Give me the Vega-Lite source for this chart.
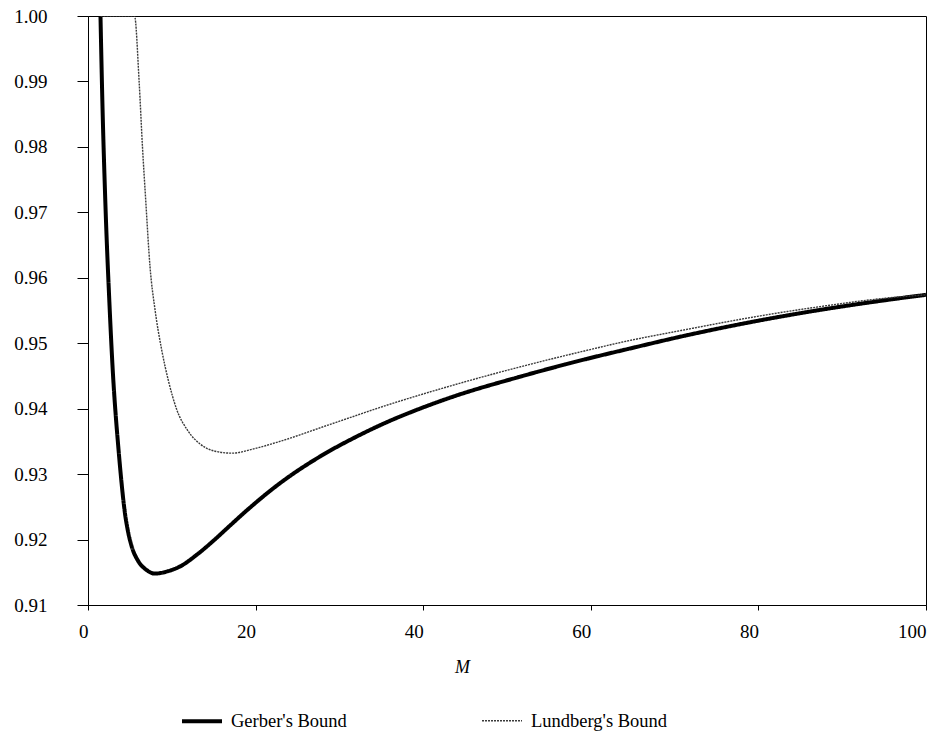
{
  "$schema": "https://vega.github.io/schema/vega-lite/v6.json",
  "width": 838,
  "height": 589,
  "autosize": {"type": "none"},
  "padding": {"left": 88, "top": 16, "right": 6, "bottom": 127},
  "background": "white",
  "config": {
    "font": "Liberation Serif",
    "view": {"stroke": "black", "strokeWidth": 1},
    "legend": {
      "orient": "none",
      "legendX": 92,
      "legendY": 683,
      "direction": "horizontal",
      "columns": 2,
      "columnPadding": 132,
      "symbolType": "stroke",
      "symbolSize": 1600,
      "labelFont": "Liberation Serif",
      "labelFontSize": 18.5,
      "labelColor": "black",
      "labelOffset": 7,
      "labelLimit": 300,
      "padding": 0
    }
  },
  "data": {
    "values": [
      {"series": "Gerber's Bound", "M": 1.49, "value": 1.0},
      {"series": "Gerber's Bound", "M": 1.71, "value": 0.9872},
      {"series": "Gerber's Bound", "M": 2.06, "value": 0.9719},
      {"series": "Gerber's Bound", "M": 2.54, "value": 0.9566},
      {"series": "Gerber's Bound", "M": 3.02, "value": 0.9444},
      {"series": "Gerber's Bound", "M": 3.29, "value": 0.9393},
      {"series": "Gerber's Bound", "M": 3.62, "value": 0.9341},
      {"series": "Gerber's Bound", "M": 3.97, "value": 0.9291},
      {"series": "Gerber's Bound", "M": 4.4, "value": 0.9241},
      {"series": "Gerber's Bound", "M": 4.75, "value": 0.9214},
      {"series": "Gerber's Bound", "M": 5.25, "value": 0.9188},
      {"series": "Gerber's Bound", "M": 5.95, "value": 0.9168},
      {"series": "Gerber's Bound", "M": 6.93, "value": 0.9154},
      {"series": "Gerber's Bound", "M": 8.0, "value": 0.9148},
      {"series": "Gerber's Bound", "M": 9.5, "value": 0.91515},
      {"series": "Gerber's Bound", "M": 11.0, "value": 0.9159},
      {"series": "Gerber's Bound", "M": 13.0, "value": 0.9177},
      {"series": "Gerber's Bound", "M": 14.95, "value": 0.9198},
      {"series": "Gerber's Bound", "M": 17.0, "value": 0.9222},
      {"series": "Gerber's Bound", "M": 18.9, "value": 0.9244},
      {"series": "Gerber's Bound", "M": 22.9, "value": 0.9286},
      {"series": "Gerber's Bound", "M": 27.7, "value": 0.9327},
      {"series": "Gerber's Bound", "M": 32.0, "value": 0.9357},
      {"series": "Gerber's Bound", "M": 35.6, "value": 0.9379},
      {"series": "Gerber's Bound", "M": 39.6, "value": 0.94},
      {"series": "Gerber's Bound", "M": 43.6, "value": 0.94185},
      {"series": "Gerber's Bound", "M": 51.6, "value": 0.9449},
      {"series": "Gerber's Bound", "M": 59.5, "value": 0.9476},
      {"series": "Gerber's Bound", "M": 64.7, "value": 0.9492},
      {"series": "Gerber's Bound", "M": 71.4, "value": 0.9512},
      {"series": "Gerber's Bound", "M": 79.4, "value": 0.9533},
      {"series": "Gerber's Bound", "M": 87.4, "value": 0.9551},
      {"series": "Gerber's Bound", "M": 95.3, "value": 0.9566},
      {"series": "Gerber's Bound", "M": 100.0, "value": 0.9574},
      {"series": "Lundberg's Bound", "M": 1.49, "value": 1.0},
      {"series": "Lundberg's Bound", "M": 5.55, "value": 1.0},
      {"series": "Lundberg's Bound", "M": 6.1, "value": 0.99},
      {"series": "Lundberg's Bound", "M": 6.5, "value": 0.98},
      {"series": "Lundberg's Bound", "M": 6.88, "value": 0.972},
      {"series": "Lundberg's Bound", "M": 7.4, "value": 0.9617},
      {"series": "Lundberg's Bound", "M": 8.0, "value": 0.9551},
      {"series": "Lundberg's Bound", "M": 8.79, "value": 0.949},
      {"series": "Lundberg's Bound", "M": 9.61, "value": 0.9442},
      {"series": "Lundberg's Bound", "M": 10.58, "value": 0.9399},
      {"series": "Lundberg's Bound", "M": 11.93, "value": 0.9366},
      {"series": "Lundberg's Bound", "M": 13.37, "value": 0.9346},
      {"series": "Lundberg's Bound", "M": 15.16, "value": 0.9335},
      {"series": "Lundberg's Bound", "M": 17.18, "value": 0.9332},
      {"series": "Lundberg's Bound", "M": 19.9, "value": 0.9339},
      {"series": "Lundberg's Bound", "M": 22.9, "value": 0.935},
      {"series": "Lundberg's Bound", "M": 28.9, "value": 0.9376},
      {"series": "Lundberg's Bound", "M": 35.6, "value": 0.9405},
      {"series": "Lundberg's Bound", "M": 43.6, "value": 0.9436},
      {"series": "Lundberg's Bound", "M": 51.6, "value": 0.9464},
      {"series": "Lundberg's Bound", "M": 59.5, "value": 0.9489},
      {"series": "Lundberg's Bound", "M": 63.5, "value": 0.9501},
      {"series": "Lundberg's Bound", "M": 71.4, "value": 0.9521},
      {"series": "Lundberg's Bound", "M": 79.4, "value": 0.954},
      {"series": "Lundberg's Bound", "M": 87.4, "value": 0.9556},
      {"series": "Lundberg's Bound", "M": 95.3, "value": 0.9569},
      {"series": "Lundberg's Bound", "M": 100.0, "value": 0.9574}
    ]
  },
  "mark": {"type": "line", "clip": true, "interpolate": "monotone", "strokeJoin": "round"},
  "encoding": {
    "x": {
      "field": "M",
      "type": "quantitative",
      "scale": {"domain": [0, 100], "nice": false, "zero": false},
      "axis": {
        "values": [0, 20, 40, 60, 80, 100],
        "grid": false,
        "tickSize": 5,
        "tickColor": "black",
        "domainColor": "black",
        "labelFont": "Liberation Serif",
        "labelFontSize": 19,
        "labelColor": "black",
        "labelAlign": "right",
        "labelDx": -1,
        "labelPadding": 12,
        "labelFlush": false,
        "title": "M",
        "titleFont": "Liberation Serif",
        "titleFontStyle": "italic",
        "titleFontWeight": "normal",
        "titleFontSize": 18,
        "titleColor": "black",
        "titleX": 374,
        "titlePadding": 17
      }
    },
    "y": {
      "field": "value",
      "type": "quantitative",
      "scale": {"domain": [0.91, 1.0], "nice": false, "zero": false},
      "axis": {
        "values": [0.91, 0.92, 0.93, 0.94, 0.95, 0.96, 0.97, 0.98, 0.99, 1.0],
        "format": ".2f",
        "grid": false,
        "tickSize": 11,
        "tickColor": "black",
        "domainColor": "black",
        "labelFont": "Liberation Serif",
        "labelFontSize": 19,
        "labelColor": "black",
        "labelPadding": 30,
        "labelFlush": false,
        "title": null
      }
    },
    "color": {
      "field": "series",
      "type": "ordinal",
      "scale": {"domain": ["Gerber's Bound", "Lundberg's Bound"], "range": ["#000000", "#3a3a3a"]},
      "title": null
    },
    "strokeWidth": {
      "field": "series",
      "type": "ordinal",
      "scale": {"domain": ["Gerber's Bound", "Lundberg's Bound"], "range": [4, 1.4]},
      "title": null
    },
    "strokeDash": {
      "field": "series",
      "type": "ordinal",
      "scale": {"domain": ["Gerber's Bound", "Lundberg's Bound"], "range": [[1, 0], [2, 1]]},
      "title": null
    }
  }
}
